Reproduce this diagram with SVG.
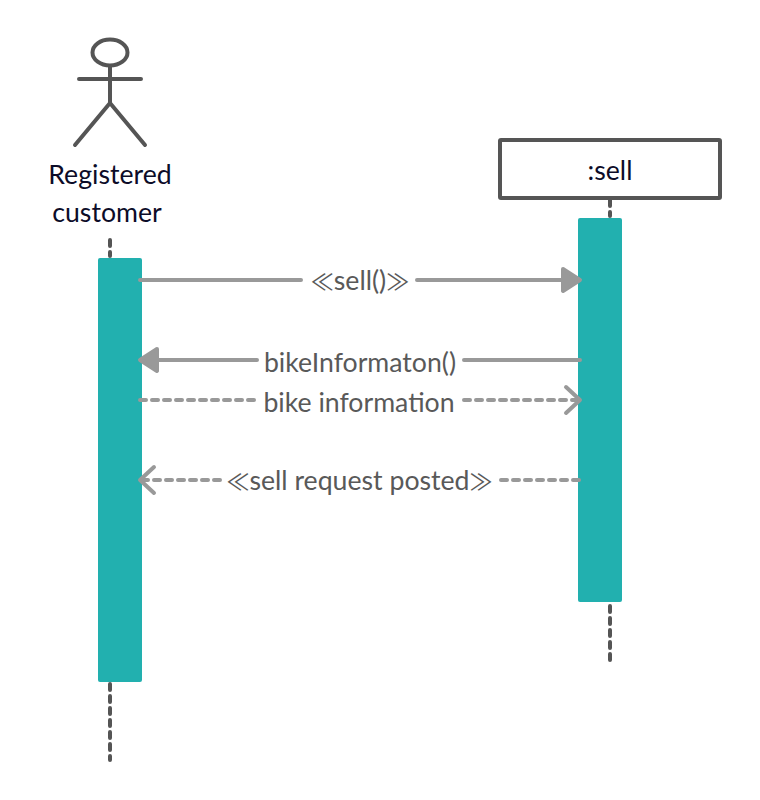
<svg xmlns="http://www.w3.org/2000/svg" width="760" height="800" viewBox="0 0 760 800">
<style>
.act{fill:#22b0af}
.life{fill:none;stroke:#555;stroke-width:4;stroke-linecap:round;stroke-dasharray:6 6}
.stick{fill:none;stroke:#555;stroke-width:4;stroke-linecap:round;stroke-linejoin:round}
.msg{fill:none;stroke:#999;stroke-width:4;stroke-linecap:round;stroke-linejoin:round}
.dash{stroke-dasharray:6 6}
.head{fill:#999;stroke:#999;stroke-width:4;stroke-linejoin:round}
.name{font-family:Lato,"Liberation Sans",sans-serif;font-size:26.67px;fill:#0c0c28;text-anchor:middle}
.lbl{font-family:Lato,"Liberation Sans",sans-serif;font-size:26.67px;fill:#595959;text-anchor:middle}
.gu{font-family:"Noto Sans CJK SC","Noto Sans",sans-serif;font-size:23px}
</style>
<rect width="760" height="800" fill="#fff"/>
<g id="lifelines">
<path class="life" d="M110 240V256M110 684V760"/>
<path class="life" d="M610 200V216M610 606V660"/>
</g>
<g id="actor-registered-customer">
<ellipse class="stick" cx="110" cy="52.5" rx="17.5" ry="13"/>
<path class="stick" d="M110 66V103M79 79H141M110 103L75 145M110 103L145 145"/>
<text class="name" x="110" y="184">Registered</text>
<text class="name" x="107" y="222">customer</text>
</g>
<g id="object-sell">
<rect x="500" y="140" width="220" height="58" rx="1" fill="#fff" stroke="#555" stroke-width="4"/>
<text class="name" x="610" y="180">:sell</text>
</g>
<g id="activation-customer"><rect class="act" x="98" y="258" width="44" height="424" rx="2"/></g>
<g id="activation-sell"><rect class="act" x="578" y="218" width="44" height="384" rx="2"/></g>
<g id="connectors">
<path class="msg" d="M140 280H301M417 280H562"/>
<path class="head" d="M563 269L580 280L563 291Z"/>
<path class="msg" d="M158 360H257M464 360H580"/>
<path class="head" d="M157 349L140 360L157 371Z"/>
<path class="msg dash" d="M140 400H257M464 400H580"/>
<path class="msg" d="M566 387L580 400L566 413"/>
<path class="msg dash" d="M220 480H142M501 480H580"/>
<path class="msg" d="M154 467L140 480L154 493"/>
</g>
<g id="labels">
<text class="lbl" x="360" y="290"><tspan class="gu">≪</tspan>sell()<tspan class="gu">≫</tspan></text>
<text class="lbl" x="360" y="372">bikeInformaton()</text>
<text class="lbl" x="359" y="412">bike information</text>
<text class="lbl" x="359.500" y="490"><tspan class="gu">≪</tspan>sell request posted<tspan class="gu">≫</tspan></text>
</g>
</svg>
